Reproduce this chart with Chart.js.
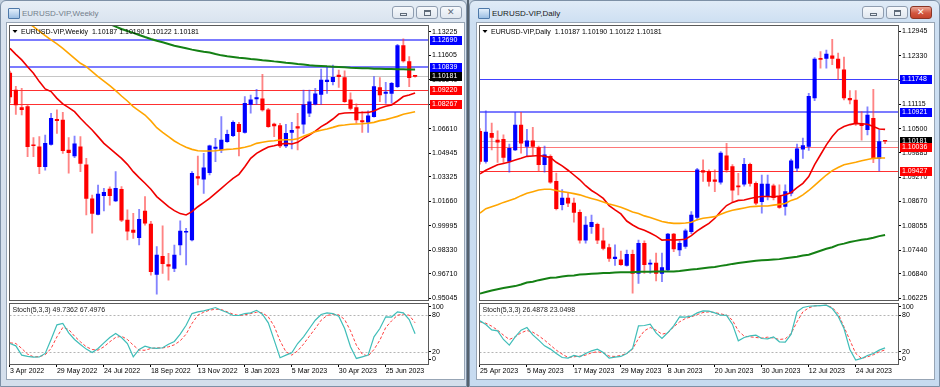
<!DOCTYPE html>
<html>
<head>
<meta charset="utf-8">
<script src="https://cdn.jsdelivr.net/npm/chart.js@4.4.0/dist/chart.umd.min.js"></script>
<style>
  body { margin:0; width:940px; height:387px; overflow:hidden; position:relative;
         background:#c2cfdd; font-family:"Liberation Sans", Arial, sans-serif; }
  .win { position:absolute; top:0; height:387px; box-sizing:border-box;
         border:1px solid #7d90a6; border-radius:6px 6px 0 0; }
  .inactive { background:linear-gradient(#e7eef6, #d9e3ef 22px, #d4dfec); }
  .active { background:linear-gradient(#e0ebf7, #cddff2 22px, #c7dbf0); }
  .ttl { position:absolute; top:9px; font-size:8px; line-height:10px; white-space:nowrap; }
  .ico { position:absolute; top:8px; width:10px; height:9px; border:1px solid #4e79a9;
         background:linear-gradient(#e3effb, #9cbfe3); border-radius:1px; }
  .btn { position:absolute; top:6px; width:22px; height:13px; box-sizing:border-box;
         border:1px solid #8f9db0; border-radius:3px; background:linear-gradient(#f7f9fc, #e0e7ef); }
  .btn i { position:absolute; display:block; box-sizing:border-box; }
  .gmin { left:7px; top:6px; width:7px; height:3px; border:1px solid #5f6b79; }
  .gmax { left:7px; top:3px; width:7px; height:6px; border:1px solid #5f6b79; border-top-width:2px; }
  .gx { left:6px; top:0px; font-style:normal; font-size:9px; line-height:11px; color:#5f6b79; font-family:"DejaVu Sans"; }
  .btn.red { border-color:#8a3526; background:linear-gradient(#eaa898, #d3573f 55%, #c4442c); }
  .btn.red .gx { color:#fff; font-weight:bold; }
  .client { position:absolute; top:22px; width:459px; height:358px; box-sizing:border-box;
            background:#fff; border:1px solid #97a5b5; }
  .sep { position:absolute; left:467px; top:0; width:2px; height:387px; background:#55626f; }
  canvas { position:absolute; }
</style>
</head>
<body>
<div class="win inactive" style="left:0;width:467px"></div>
<div class="ico" style="left:8px"></div>
<div class="ttl" style="left:22px;color:#747f8c">EURUSD-VIP,Weekly</div>
<div class="btn" style="left:392px"><i class="gmin"></i></div>
<div class="btn" style="left:416px"><i class="gmax"></i></div>
<div class="btn" style="left:440px"><i class="gx">✕</i></div>
<div class="client" style="left:6px"></div>
<canvas id="wMain" width="456" height="279" style="left:7px;top:23px"></canvas>
<canvas id="wStoch" width="456" height="76" style="left:7px;top:302px"></canvas>

<div class="sep"></div>

<div class="win active" style="left:469px;width:471px"></div>
<div class="ico" style="left:478px"></div>
<div class="ttl" style="left:492px;color:#1a1a1a">EURUSD-VIP,Daily</div>
<div class="btn" style="left:862px"><i class="gmin"></i></div>
<div class="btn" style="left:886px"><i class="gmax"></i></div>
<div class="btn red" style="left:910px"><i class="gx">✕</i></div>
<div class="client" style="left:476px"></div>
<canvas id="dMain" width="456" height="279" style="left:477px;top:23px"></canvas>
<canvas id="dStoch" width="456" height="76" style="left:477px;top:302px"></canvas>

<script>
// ---------- weekly EURUSD, 3 Apr 2022 .. 30 Jul 2023 ----------
const wOpen = [1.1040,1.0925,1.0805,1.0811,1.0550,1.0538,1.0402,1.0554,1.0725,1.0720,
  1.0516,1.0475,1.0538,1.0414,1.0182,1.0077,1.0204,1.0250,1.0168,1.0248,
  1.0038,0.9970,0.9918,1.0100,1.0011,0.9668,0.9790,0.9734,0.9709,0.9868,
  0.9955,0.9902,1.0334,1.0316,1.0361,1.0527,1.0516,1.0573,1.0614,1.0691,
  1.0636,1.0827,1.0864,1.0864,1.0789,1.0693,1.0682,1.0543,1.0636,1.0675,
  1.0691,1.0766,1.0829,1.0895,1.0982,1.0982,1.1027,1.1009,1.0857,1.0805,
  1.0716,1.0705,1.0743,1.0941,1.0902,1.0902,1.0948,1.1227,1.1118,1.10187];
const wHigh = [1.1053,1.0950,1.0936,1.0825,1.0600,1.0607,1.0618,1.0766,1.0789,1.0773,
  1.0600,1.0611,1.0607,1.0459,1.0209,1.0277,1.0254,1.0265,1.0368,1.0266,
  1.0107,1.0084,1.0111,1.0198,1.0030,0.9857,0.9999,0.9811,0.9868,1.0032,
  0.9982,1.0368,1.0475,1.0493,1.0550,1.0595,1.0743,1.0652,1.0714,1.0705,
  1.0880,1.0891,1.0930,1.1032,1.0800,1.0700,1.0698,1.0691,1.0705,1.0766,
  1.0925,1.0925,1.0936,1.1068,1.1084,1.1095,1.1061,1.1055,1.0905,1.0830,
  1.0777,1.0782,1.1016,1.1009,1.0977,1.0977,1.1236,1.1273,1.1152,1.10190];
const wLow = [1.0837,1.0759,1.0755,1.0470,1.0470,1.0355,1.0379,1.0548,1.0629,1.0493,
  1.0357,1.0464,1.0368,1.0073,0.9948,1.0073,1.0100,1.0140,1.0163,1.0027,
  0.9902,0.9913,0.9868,1.0004,0.9663,0.9532,0.9675,0.9629,0.9686,0.9800,
  0.9732,0.9895,1.0277,1.0220,1.0345,1.0436,1.0498,1.0568,1.0607,1.0475,
  1.0630,1.0766,1.0827,1.0780,1.0670,1.0607,1.0532,1.0532,1.0523,1.0516,
  1.0629,1.0743,1.0823,1.0827,1.0902,1.0960,1.0943,1.0840,1.0789,1.0698,
  1.0636,1.0636,1.0740,1.0845,1.0834,1.0835,1.0940,1.1115,1.0948,1.10122];
const wClose = [1.0878,1.0823,1.0790,1.0539,1.0545,1.0402,1.0561,1.0732,1.0716,1.0511,
  1.0498,1.0557,1.0425,1.0186,1.0084,1.0216,1.0227,1.0205,1.0254,1.0038,
  0.9963,0.9954,1.0043,1.0016,0.9686,0.9800,0.9740,0.9723,0.9800,0.9963,
  0.9962,1.0357,1.0323,1.0395,1.0545,1.0536,1.0584,1.0623,1.0705,1.0641,
  1.0834,1.0857,1.0873,1.0789,1.0675,1.0680,1.0543,1.0630,1.0650,1.0664,
  1.0823,1.0845,1.0898,1.0993,1.0993,1.1011,1.1016,1.0845,1.0800,1.0720,
  1.0707,1.0748,1.0948,1.0891,1.0911,1.0970,1.1227,1.1123,1.1009,1.10181];
// moving averages (red / orange / green)
const wMaFast = [1.1209,1.1168,1.1130,1.1084,1.1039,1.0982,1.0932,1.0914,1.0868,1.0830,
  1.0805,1.0777,1.0732,1.0691,1.0652,1.0607,1.0561,1.0527,1.0493,1.0459,
  1.0418,1.0368,1.0327,1.0289,1.0248,1.0198,1.0164,1.0129,1.0102,1.0082,
  1.0073,1.0095,1.0129,1.0157,1.0186,1.0220,1.0254,1.0289,1.0323,1.0350,
  1.0402,1.0459,1.0493,1.0516,1.0536,1.0545,1.0555,1.0561,1.0557,1.0568,
  1.0595,1.0618,1.0645,1.0675,1.0698,1.0727,1.0761,1.0768,1.0770,1.0770,
  1.0771,1.0772,1.0782,1.0800,1.0814,1.0823,1.0850,1.0880,1.0891,1.0905];
const wMaMid = [null,null,null,1.1384,1.1357,1.1327,1.1295,1.1266,1.1239,1.1209,
  1.1175,1.1141,1.1107,1.1084,1.1050,1.1016,1.0986,1.0954,1.0920,1.0884,
  1.0850,1.0811,1.0782,1.0754,1.0714,1.0668,1.0636,1.0607,1.0577,1.0554,
  1.0534,1.0520,1.0511,1.0509,1.0509,1.0511,1.0516,1.0520,1.0523,1.0527,
  1.0534,1.0545,1.0561,1.0568,1.0575,1.0579,1.0584,1.0586,1.0586,1.0593,
  1.0609,1.0625,1.0641,1.0650,1.0659,1.0670,1.0682,1.0686,1.0691,1.0693,
  1.0695,1.0698,1.0704,1.0716,1.0723,1.0734,1.0745,1.0759,1.0768,1.0777];
const wMaSlow = [null,null,null,null,null,null,null,null,null,null,
  null,null,null,null,null,null,null,1.1375,1.1357,1.1341,
  1.1327,1.1314,1.1300,1.1286,1.1273,1.1261,1.1250,1.1239,1.1227,1.1218,
  1.1209,1.1200,1.1193,1.1186,1.1180,1.1170,1.1161,1.1155,1.1150,1.1145,
  1.1141,1.1136,1.1132,1.1127,1.1125,1.1120,1.1116,1.1111,1.1107,1.1102,
  1.1098,1.1093,1.1091,1.1089,1.1086,1.1084,1.1082,1.1080,1.1077,1.1075,
  1.1073,1.1073,1.1070,1.1070,1.1068,1.1068,1.1066,1.1066,1.1065,1.1065];
const wStochK = [33.6,29.8,14.5,12.4,11.3,11.5,17.3,40.2,64.2,66.4,
  51.1,40.2,32.0,24.4,18.9,25.5,34.7,43.5,50.0,43.4,
  33.6,11.8,23.8,29.3,26.5,25.5,26.6,32.5,36.9,48.9,
  63.6,82.7,85.5,87.1,89.8,92.6,88.2,84.4,79.5,79.6,
  82.7,83.8,88.0,81.6,67.5,39.1,10.2,14.5,18.4,33.6,
  44.5,58.2,71.8,81.1,83.9,82.7,78.4,58.1,28.2,9.1,
  11.8,14.6,44.5,58.2,77.3,77.0,85.5,83.8,72.9,49.7362];
const wStochD = [34.7,33.6,25.5,16.2,11.8,12.0,15.1,25.5,44.5,59.8,
  56.6,45.6,36.4,28.2,23.8,22.7,28.2,36.4,43.5,45.6,
  40.2,30.9,22.7,22.5,25.5,26.5,26.3,28.2,31.5,38.0,
  48.9,66.4,80.0,84.9,88.2,89.8,89.3,85.5,81.6,79.5,
  80.6,82.7,84.9,83.8,77.3,62.0,38.0,20.0,14.5,21.6,
  32.5,45.6,58.2,71.8,79.5,81.6,80.6,72.9,54.4,30.9,
  16.2,12.9,23.8,39.1,59.8,70.7,80.0,81.6,80.0,67.4976];
const wPriceTicks = [1.13225,1.11605,1.09940,1.08275,1.06610,1.04945,1.03325,1.01660,0.99995,0.98330,0.96710,0.95045];
const wDateLabels = ['3 Apr 2022','29 May 2022','24 Jul 2022','18 Sep 2022','13 Nov 2022','8 Jan 2023','5 Mar 2023','30 Apr 2023','25 Jun 2023'];
const wLevels = [1.12690, 1.10839, 1.10181, 1.09220, 1.08267];
const wLevelKinds = ['blueWide','blueWide','bid','red','red'];

// ---------- daily EURUSD, 25 Apr 2023 .. 31 Jul 2023 ----------
const dOpen = [1.1043,1.0967,1.1038,1.1021,1.1023,1.0967,1.0996,1.1059,1.1005,1.1019,
  1.1002,1.0959,1.0980,1.0917,1.0858,1.0875,1.0862,1.0839,1.0769,1.0803,
  1.0809,1.0767,1.0750,1.0722,1.0719,1.0705,1.0733,1.0685,1.0761,1.0708,
  1.0711,1.0685,1.0694,1.0784,1.0744,1.0753,1.0790,1.0826,1.0944,1.0942,
  1.0921,1.0915,1.0981,1.0954,1.0906,1.0910,1.0960,1.0912,1.0866,1.0879,
  1.0906,1.0879,1.0854,1.0887,1.0950,1.0998,1.1005,1.1127,1.1227,1.1227,
  1.1233,1.1225,1.1198,1.1126,1.1122,1.1062,1.1047,1.1076,1.0975,1.10187];
const dHigh = [1.1050,1.1095,1.1064,1.1044,1.1034,1.1011,1.1091,1.1091,1.1048,1.1053,
  1.1006,1.1006,1.0984,1.0938,1.0896,1.0887,1.0875,1.0845,1.0828,1.0832,
  1.0812,1.0799,1.0759,1.0757,1.0741,1.0744,1.0744,1.0769,1.0767,1.0719,
  1.0736,1.0736,1.0786,1.0786,1.0767,1.0797,1.0841,1.0950,1.0971,1.0946,
  1.0946,1.0992,1.1013,1.0959,1.0937,1.0975,1.0963,1.0916,1.0933,1.0933,
  1.0910,1.0908,1.0908,1.0973,1.1011,1.1026,1.1139,1.1229,1.1244,1.1248,
  1.1275,1.1240,1.1230,1.1146,1.1146,1.1093,1.1105,1.1149,1.1047,1.10190];
const dLow = [1.0960,1.0963,1.0996,1.0965,1.0963,1.0940,1.0994,1.0988,1.0980,1.0982,
  1.0942,1.0940,1.0912,1.0845,1.0845,1.0853,1.0814,1.0761,1.0761,1.0786,
  1.0760,1.0744,1.0715,1.0705,1.0705,1.0703,1.0635,1.0660,1.0685,1.0685,
  1.0666,1.0664,1.0690,1.0740,1.0730,1.0748,1.0785,1.0820,1.0917,1.0905,
  1.0891,1.0910,1.0940,1.0866,1.0883,1.0905,1.0905,1.0858,1.0837,1.0870,
  1.0870,1.0849,1.0832,1.0880,1.0942,1.0975,1.0995,1.1120,1.1202,1.1202,
  1.1211,1.1173,1.1122,1.1112,1.1058,1.1021,1.1034,1.0964,1.0943,1.10122];
const dClose = [1.0967,1.1041,1.1028,1.1016,1.0977,1.1000,1.1059,1.1013,1.1019,1.1005,
  1.0959,1.0984,1.0915,1.0848,1.0875,1.0862,1.0839,1.0769,1.0807,1.0814,
  1.0769,1.0748,1.0723,1.0726,1.0707,1.0733,1.0685,1.0761,1.0707,1.0711,
  1.0685,1.0700,1.0784,1.0747,1.0761,1.0792,1.0832,1.0946,1.0940,1.0917,
  1.0917,1.0988,1.0946,1.0895,1.0903,1.0960,1.0912,1.0862,1.0910,1.0910,
  1.0876,1.0851,1.0891,1.0969,1.0999,1.1007,1.1131,1.1225,1.1224,1.1238,
  1.1227,1.1202,1.1127,1.1122,1.1063,1.1057,1.1084,1.0975,1.1017,1.10181];
const dMaFast = [1.0936,1.0945,1.0952,1.0959,1.0962,1.0966,1.0971,1.0975,1.0980,1.0981,
  1.0982,1.0980,1.0977,1.0965,1.0956,1.0945,1.0933,1.0921,1.0906,1.0894,
  1.0885,1.0874,1.0856,1.0845,1.0835,1.0817,1.0807,1.0799,1.0794,1.0787,
  1.0779,1.0769,1.0770,1.0769,1.0770,1.0771,1.0780,1.0792,1.0802,1.0811,
  1.0824,1.0841,1.0856,1.0864,1.0869,1.0870,1.0874,1.0877,1.0879,1.0879,
  1.0878,1.0880,1.0883,1.0889,1.0901,1.0912,1.0929,1.0959,1.0984,1.1009,
  1.1030,1.1047,1.1055,1.1060,1.1063,1.1062,1.1061,1.1055,1.1049,1.1048];
const dMaMid = [1.0837,1.0848,1.0853,1.0858,1.0864,1.0869,1.0874,1.0881,1.0887,1.0891,
  1.0895,1.0897,1.0897,1.0894,1.0891,1.0889,1.0886,1.0883,1.0878,1.0874,
  1.0870,1.0865,1.0860,1.0856,1.0852,1.0846,1.0840,1.0836,1.0830,1.0826,
  1.0821,1.0816,1.0813,1.0811,1.0811,1.0812,1.0814,1.0820,1.0824,1.0826,
  1.0828,1.0834,1.0840,1.0844,1.0847,1.0850,1.0853,1.0854,1.0855,1.0855,
  1.0857,1.0859,1.0861,1.0869,1.0874,1.0883,1.0894,1.0907,1.0920,1.0933,
  1.0944,1.0952,1.0959,1.0962,1.0965,1.0969,1.0972,1.0975,1.0976,1.0976];
const dMaSlow = [1.0634,1.0638,1.0642,1.0645,1.0648,1.0651,1.0653,1.0657,1.0662,1.0664,
  1.0668,1.0671,1.0674,1.0675,1.0677,1.0679,1.0680,1.0682,1.0683,1.0684,
  1.0685,1.0686,1.0686,1.0687,1.0688,1.0688,1.0688,1.0689,1.0689,1.0689,
  1.0690,1.0690,1.0690,1.0690,1.0691,1.0693,1.0695,1.0696,1.0698,1.0700,
  1.0701,1.0704,1.0706,1.0709,1.0711,1.0713,1.0715,1.0717,1.0718,1.0719,
  1.0720,1.0721,1.0723,1.0725,1.0727,1.0730,1.0732,1.0737,1.0742,1.0747,
  1.0751,1.0757,1.0760,1.0764,1.0767,1.0770,1.0772,1.0775,1.0779,1.0782];
const dStochK = [70.7,64.7,56.0,54.4,40.2,30.9,44.5,55.5,59.8,47.8,
  39.1,29.8,24.4,17.3,10.7,9.6,14.0,11.8,17.3,21.6,
  24.4,18.9,9.6,11.3,12.4,17.3,25.5,62.6,63.1,65.3,
  51.1,41.8,51.6,62.6,77.3,76.9,78.4,83.8,87.1,86.6,
  83.8,80.0,79.8,65.3,38.0,43.5,46.2,47.3,41.8,41.3,
  44.5,36.4,35.8,48.9,85.5,92.6,94.7,95.3,95.8,96.4,
  90.9,78.4,58.2,23.8,6.4,9.1,14.0,17.3,22.7,26.4878];
const dStochD = [69.1,66.9,62.0,55.5,47.3,40.2,44.5,51.1,54.9,52.2,
  46.2,39.1,30.9,22.7,16.2,10.7,11.8,12.9,14.5,18.4,
  20.0,18.4,12.9,12.4,14.0,17.3,24.4,41.8,54.4,59.8,
  55.5,48.9,51.1,60.9,69.1,74.6,77.3,81.1,84.4,85.5,
  84.4,82.2,80.0,71.8,54.4,45.6,44.5,43.5,42.4,44.0,
  42.6,40.2,41.3,50.0,69.1,85.5,92.0,95.3,95.8,96.4,
  92.6,82.7,60.9,39.1,17.3,9.1,11.8,15.1,20.0,23.0498];
const dPriceTicks = [1.12945,1.12330,1.11720,1.11115,1.10500,1.09885,1.09270,1.08670,1.08055,1.07440,1.06840,1.06225];
const dDateLabels = ['25 Apr 2023','5 May 2023','17 May 2023','29 May 2023','8 Jun 2023','20 Jun 2023','30 Jun 2023','12 Jul 2023','24 Jul 2023'];
const dLevels = [1.11748, 1.10921, 1.10181, 1.10036, 1.09427];
const dLevelKinds = ['blue','blueWide','bid','redLight','red'];

const stochLevels = [80, 20];
const stochTicks = [100, 80, 20, 0];
const LABEL_EVERY = 8;   // one date label every 8 bars

// ---------- drawing ----------
const FONT = '"Liberation Sans", Arial, sans-serif';
Chart.defaults.font.family = FONT;
Chart.defaults.font.size = 7;
const XMIN = -0.08, XMAX = 71.2;
const BULL = '#0000ff', BEAR = '#ff0000';
const LEVEL_STYLE = {
  blueWide: { line: '#7b7bff', width: 2, box: '#0000ff' },
  blue:     { line: '#4040ff', width: 1, box: '#0000ff' },
  bid:      { line: '#c6c6c6', width: 1, box: '#000000' },
  red:      { line: '#ff3030', width: 1, box: '#ff0000' },
  redLight: { line: '#ff7878', width: 1, box: '#ff0000' }
};

const pts = arr => arr.map((v, i) => ({ x: i, y: v }));

// MT4 style panel: frame, levels, header text, price boxes on the axis
const mt4Panel = {
  id: 'mt4Panel',
  beforeDatasetsDraw(chart, _a, o) {
    const { ctx, chartArea: a } = chart;
    const y = chart.scales.y;
    ctx.save();
    ctx.beginPath();
    ctx.rect(a.left, a.top, a.right - a.left, a.bottom - a.top);
    ctx.clip();
    (o.levels || []).forEach((v, k) => {
      const st = LEVEL_STYLE[o.kinds[k]];
      const py = Math.round(y.getPixelForValue(v)) + (st.width % 2 ? 0.5 : 0);
      ctx.strokeStyle = st.line; ctx.lineWidth = st.width;
      ctx.beginPath(); ctx.moveTo(a.left, py); ctx.lineTo(a.right, py); ctx.stroke();
    });
    (o.dotted || []).forEach(v => {
      const py = Math.round(y.getPixelForValue(v)) + 0.5;
      ctx.strokeStyle = '#b4b4b4'; ctx.lineWidth = 1; ctx.setLineDash([2, 2]);
      ctx.beginPath(); ctx.moveTo(a.left, py); ctx.lineTo(a.right, py); ctx.stroke();
    });
    ctx.restore();
  },
  afterDraw(chart, _a, o) {
    const { ctx, chartArea: a } = chart;
    const y = chart.scales.y;
    const L = Math.floor(a.left), T = Math.floor(a.top), R = Math.floor(a.right), B = Math.floor(a.bottom);
    ctx.save();
    ctx.strokeStyle = '#5a5a5a'; ctx.lineWidth = 1; ctx.setLineDash([]);
    ctx.strokeRect(L + 0.5, T + 0.5, R - L, B - T);
    ctx.font = '7px ' + FONT;
    ctx.textBaseline = 'middle';
    if (o.header) {
      let tx = a.left + 3;
      if (o.marker) {
        ctx.fillStyle = '#000';
        ctx.beginPath(); ctx.moveTo(a.left + 3, a.top + 5); ctx.lineTo(a.left + 8, a.top + 5);
        ctx.lineTo(a.left + 5.5, a.top + 8); ctx.closePath(); ctx.fill();
        tx = a.left + 11.5;
      }
      ctx.fillStyle = o.headerColor || '#000';
      ctx.fillText(o.header, tx, a.top + 7);
    }
    (o.levels || []).forEach((v, k) => {
      const st = LEVEL_STYLE[o.kinds[k]];
      const py = Math.round(y.getPixelForValue(v));
      ctx.fillStyle = st.box;
      ctx.fillRect(R + 2, py - 4, 32, 9);
      ctx.fillStyle = '#fff';
      ctx.fillText(v.toFixed(5), R + 4, py + 0.5);
    });
    ctx.restore();
  }
};

function candleSets(o, h, l, c) {
  const up = i => c[i] >= o[i];
  return [
    { type: 'bar', order: 1, grouped: false, barThickness: 3.5, maxBarThickness: 3.5, minBarLength: 1,
      data: o.map((v, i) => ({ x: i, y: [o[i], c[i]] })),
      backgroundColor: ctx => up(ctx.dataIndex) ? BULL : BEAR },
    { type: 'bar', order: 2, grouped: false, barThickness: 1.2, maxBarThickness: 1.2,
      data: o.map((v, i) => ({ x: i, y: [l[i], h[i]] })),
      backgroundColor: ctx => up(ctx.dataIndex) ? 'rgba(50,50,255,0.6)' : 'rgba(255,50,50,0.6)' }
  ];
}

function maLine(arr, color, width) {
  return { type: 'line', order: 0, data: pts(arr), borderColor: color, borderWidth: width,
           pointRadius: 0, tension: 0, spanGaps: false };
}

function priceChart(id, s) {
  const last = s.o.length - 1;
  const header = s.name + '  ' + [s.o[last], s.h[last], s.l[last], s.c[last]].map(v => v.toFixed(5)).join(' ');
  new Chart(document.getElementById(id), {
    type: 'bar',
    data: { datasets: [
      maLine(s.slow, '#148014', 2),
      maLine(s.mid, '#ffa500', 1.6),
      maLine(s.fast, '#f00000', 1.6),
      ...candleSets(s.o, s.h, s.l, s.c)
    ] },
    options: {
      animation: false, responsive: false, devicePixelRatio: 1, events: [],
      layout: { padding: { left: 2.5, top: 2, right: 0, bottom: 2 } },
      plugins: { legend: { display: false }, tooltip: { enabled: false },
        mt4Panel: { levels: s.levels, kinds: s.kinds, header, marker: true } },
      scales: {
        x: { type: 'linear', min: XMIN, max: XMAX, offset: false, display: false },
        y: { type: 'linear', position: 'right', min: s.min, max: s.max, beginAtZero: false,
          afterBuildTicks: sc => { sc.ticks = s.ticks.map(v => ({ value: v })); },
          afterFit: sc => { sc.width = 35; sc.paddingTop = 0; sc.paddingBottom = 0; },
          ticks: { color: '#000', padding: 1, autoSkip: false, callback: v => v.toFixed(5) },
          grid: { drawOnChartArea: false, drawTicks: true, tickLength: 3, color: '#000' },
          border: { display: false } }
      }
    },
    plugins: [mt4Panel]
  });
}

function stochChart(id, k, d, dates) {
  const header = 'Stoch(5,3,3) ' + k[k.length - 1].toFixed(4) + ' ' + d[d.length - 1].toFixed(4);
  new Chart(document.getElementById(id), {
    type: 'line',
    data: { datasets: [
      { data: pts(k), borderColor: '#3fbdb8', borderWidth: 1.2, pointRadius: 0, tension: 0 },
      { data: pts(d), borderColor: '#ff4040', borderWidth: 1, borderDash: [3, 2], pointRadius: 0, tension: 0 }
    ] },
    options: {
      animation: false, responsive: false, devicePixelRatio: 1, events: [],
      layout: { padding: { left: 2.5, top: 1, right: 0, bottom: 0 } },
      plugins: { legend: { display: false }, tooltip: { enabled: false },
        mt4Panel: { dotted: stochLevels, header, headerColor: '#222' } },
      scales: {
        x: { type: 'linear', min: XMIN, max: XMAX, offset: false, position: 'bottom',
          afterBuildTicks: sc => { sc.ticks = dates.map((_, j) => ({ value: j * LABEL_EVERY })); },
          afterFit: sc => { sc.height = 14; sc.paddingLeft = 0; sc.paddingRight = 0; },
          ticks: { color: '#000', padding: 0, align: 'start', autoSkip: false, maxRotation: 0,
                   callback: (v, j) => dates[j] },
          grid: { drawOnChartArea: false, drawTicks: true, tickLength: 3, color: '#000' },
          border: { display: false } },
        y: { type: 'linear', position: 'right', min: 0, max: 100,
          // MT4 keeps the 100 and 0 captions inside the sub-window
          afterBuildTicks: sc => { sc.ticks = stochTicks.map(v => ({ value: Math.min(Math.max(v, 7.5), 93.5) })); },
          afterFit: sc => { sc.width = 35; sc.paddingTop = 0; sc.paddingBottom = 0; },
          ticks: { color: '#000', padding: 1, autoSkip: false, callback: (v, j) => String(stochTicks[j]) },
          grid: { drawOnChartArea: false, drawTicks: true, tickLength: 3, color: '#000' },
          border: { display: false } }
      }
    },
    plugins: [mt4Panel]
  });
}

priceChart('wMain', { name: 'EURUSD-VIP,Weekly', o: wOpen, h: wHigh, l: wLow, c: wClose,
  fast: wMaFast, mid: wMaMid, slow: wMaSlow, ticks: wPriceTicks, levels: wLevels, kinds: wLevelKinds,
  min: 0.9493, max: 1.1368 });
stochChart('wStoch', wStochK, wStochD, wDateLabels);

priceChart('dMain', { name: 'EURUSD-VIP,Daily', o: dOpen, h: dHigh, l: dLow, c: dClose,
  fast: dMaFast, mid: dMaMid, slow: dMaSlow, ticks: dPriceTicks, levels: dLevels, kinds: dLevelKinds,
  min: 1.0618, max: 1.1311 });
stochChart('dStoch', dStochK, dStochD, dDateLabels);
</script>
</body>
</html>
